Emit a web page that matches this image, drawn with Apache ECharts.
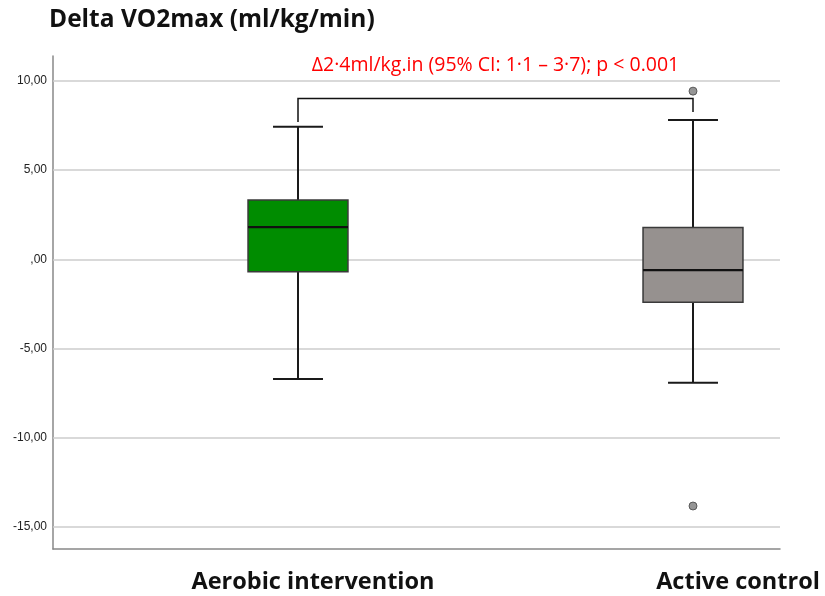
<!DOCTYPE html>
<html>
<head>
<meta charset="utf-8">
<script src="https://cdn.jsdelivr.net/npm/echarts@6/dist/echarts.min.js"></script>
<style>html,body{margin:0;padding:0;background:#fff}#c{width:825px;height:596px}</style>
</head>
<body>
<div id="c"></div>
<script>
const categories = ['Aerobic intervention', 'Active control'];
// [lower whisker, Q1, median, Q3, upper whisker]
const aerobicStats = [-6.71, -0.69, 1.81, 3.32, 7.43];
const controlStats = [-6.92, -2.41, -0.60, 1.79, 7.81];
const boxColors = ['#008c00', '#96918f'];
const outliers = [[1, 9.43], [1, -13.83]];
const yTicks = [-15, -10, -5, 0, 5, 10];
// bracket: [left leg end, bar level, right leg end]
const bracketLevels = [7.7, 9.02, 8.26];
const titleText = 'Delta VO2max (ml/kg/min)';
const annotation = 'Δ2·4ml/kg.in (95% CI: 1·1 – 3·7); p < 0.001';
const yMin = -16.24, yMax = 11.4;

const boxData = [aerobicStats, controlStats].map((s, i) => [i].concat(s));
const FONT = 'Open Sans';

const chart = echarts.init(document.getElementById('c'));
chart.setOption({
  animation: false,
  title: {
    text: titleText, left: 49, top: 8, padding: 0,
    textStyle: {fontFamily: FONT, fontWeight: 'bold', fontSize: 24.5, color: '#111'}
  },
  grid: [
    {left: 53, right: 45, top: 56, bottom: 47, outerBoundsMode: 'none'},
    {left: 100.5, width: 790, top: 56, height: 493, outerBoundsMode: 'none'}
  ],
  xAxis: [
    {type: 'category', gridIndex: 0, data: categories,
     axisLine: {show: true, onZero: false, lineStyle: {color: '#888', width: 1.5}},
     axisTick: {show: false}, axisLabel: {show: false}, splitLine: {show: false}},
    {type: 'category', gridIndex: 1, data: categories,
     axisLine: {show: false, onZero: false}, axisTick: {show: false}, splitLine: {show: false},
     axisLabel: {
       margin: 21,
       formatter: (v, i) => i === 0 ? '{a|' + v + '}' : '{b|' + v + '}',
       rich: {
         a: {fontFamily: FONT, fontWeight: 'bold', fontSize: 23.5, color: '#111', padding: [0, 0, 0, 30]},
         b: {fontFamily: FONT, fontWeight: 'bold', fontSize: 23.5, color: '#111', padding: [0, 0, 0, 90]}
       }
     }}
  ],
  yAxis: [
    {type: 'value', gridIndex: 0, min: yMin, max: yMax,
     axisLine: {show: true, lineStyle: {color: '#888', width: 1.5}},
     axisTick: {show: false}, splitLine: {show: false},
     axisLabel: {
       customValues: yTicks, margin: 6, color: '#222',
       fontFamily: 'Liberation Sans', fontSize: 12,
       formatter: v => v.toFixed(2).replace('.', ',').replace(/^0/, '')
     }},
    {type: 'value', gridIndex: 1, min: yMin, max: yMax, show: false}
  ],
  series: [
    {
      type: 'line', xAxisIndex: 0, yAxisIndex: 0, data: [], silent: true, z: 1,
      markLine: {
        silent: true, z: 1, symbol: ['none', 'none'], label: {show: false},
        lineStyle: {type: 'solid', color: '#cccccc', width: 1.5},
        data: yTicks.map(v => ({yAxis: v}))
      }
    },
    {
      type: 'custom', xAxisIndex: 1, yAxisIndex: 1, clip: false, z: 3,
      data: boxData,
      encode: {x: 0, y: [1, 2, 3, 4, 5]},
      renderItem: (params, api) => {
        const idx = api.value(0);
        const band = api.size([1, 0])[0];
        const bw = band * 0.253, cw = bw / 2;
        const pLo = api.coord([idx, api.value(1)]);
        const pQ1 = api.coord([idx, api.value(2)]);
        const pMd = api.coord([idx, api.value(3)]);
        const pQ3 = api.coord([idx, api.value(4)]);
        const pHi = api.coord([idx, api.value(5)]);
        const x = pMd[0];
        const lineStyle = {stroke: '#1a1a1a', lineWidth: 2};
        return {
          type: 'group',
          children: [
            {type: 'line', shape: {x1: x, y1: pHi[1], x2: x, y2: pQ3[1]}, style: lineStyle},
            {type: 'line', shape: {x1: x, y1: pQ1[1], x2: x, y2: pLo[1]}, style: lineStyle},
            {type: 'line', shape: {x1: x - cw / 2, y1: pHi[1], x2: x + cw / 2, y2: pHi[1]}, style: lineStyle},
            {type: 'line', shape: {x1: x - cw / 2, y1: pLo[1], x2: x + cw / 2, y2: pLo[1]}, style: lineStyle},
            {type: 'rect', shape: {x: x - bw / 2, y: pQ3[1], width: bw, height: pQ1[1] - pQ3[1]},
             style: {fill: boxColors[idx], stroke: '#3a3a3a', lineWidth: 1.5}},
            {type: 'line', shape: {x1: x - bw / 2, y1: pMd[1], x2: x + bw / 2, y2: pMd[1]},
             style: {stroke: '#111', lineWidth: 2.2}}
          ]
        };
      }
    },
    {
      type: 'scatter', xAxisIndex: 1, yAxisIndex: 1, data: outliers, z: 4,
      symbol: 'circle', symbolSize: 8,
      itemStyle: {color: '#7a7a7a', borderColor: '#444', borderWidth: 1}
    },
    {
      type: 'custom', xAxisIndex: 1, yAxisIndex: 1, clip: false, z: 3,
      data: [bracketLevels],
      encode: {y: [0, 1, 2]},
      renderItem: (params, api) => {
        const l = api.coord([0, api.value(0)]);
        const t = api.coord([0, api.value(1)]);
        const r = api.coord([1, api.value(2)]);
        const tr = api.coord([1, api.value(1)]);
        return {
          type: 'group',
          children: [
            {type: 'polyline', shape: {points: [[l[0], l[1]], [t[0], t[1]], [tr[0], tr[1]], [r[0], r[1]]]},
             style: {stroke: '#111', lineWidth: 1.5, fill: null}},
            {type: 'text', style: {
              text: annotation, x: (t[0] + tr[0]) / 2, y: t[1] - 33,
              align: 'center', verticalAlign: 'middle',
              fill: '#ff0000', fontFamily: FONT, fontSize: 19.5
            }}
          ]
        };
      }
    }
  ]
});
</script>
</body>
</html>
